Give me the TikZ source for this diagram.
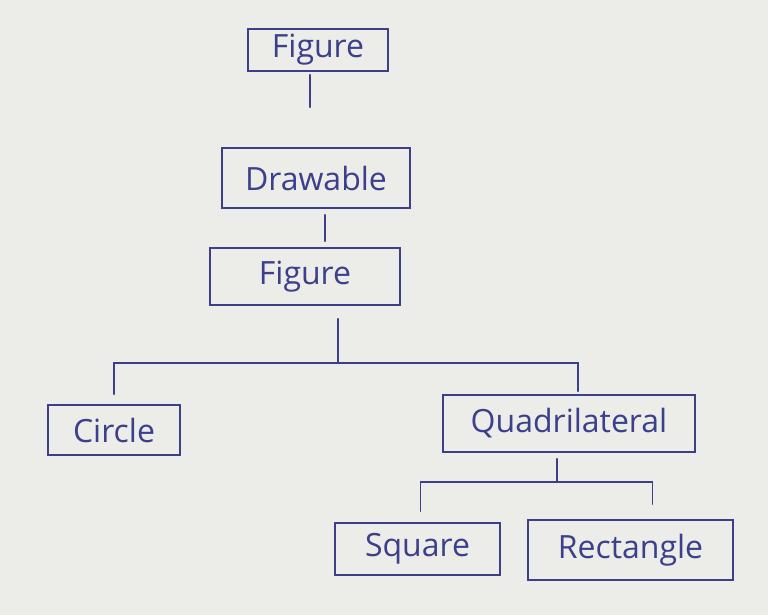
\documentclass[tikz,border=0pt]{standalone}
\usepackage{fontspec}
\setmainfont{Open Sans}
\definecolor{inkblue}{HTML}{3B3F8C}
\definecolor{paper}{HTML}{ECECE8}
\begin{document}
\begin{tikzpicture}[x=1pt,y=-1pt,
  ink/.style={draw=inkblue, line width=1.8pt, line cap=round},
  cls/.style={ink, rectangle, inner sep=0pt, text=inkblue, font=\fontsize{32}{38}\selectfont}]
\fill[paper] (0,0) rectangle (768,615);
\useasboundingbox (0,0) rectangle (768,615);
% classes
\node[cls, minimum width=140, minimum height=42] (fig1) at (318,50) {Figure};
\node[cls, minimum width=188, minimum height=60] (drw) at (316,178) {Drawable};
\node[cls, minimum width=190, minimum height=57] (fig2) at (305,276.5) {Figure};
\node[cls, minimum width=132, minimum height=50] (circ) at (114,430) {Circle};
\node[cls, minimum width=252, minimum height=57] (quad) at (569,423.5) {Quadrilateral};
\node[cls, minimum width=165, minimum height=52] (sq) at (417.5,549) {Square};
\node[cls, minimum width=205, minimum height=60] (rect) at (630.5,550) {Rectangle};
% junctions
\coordinate (j1) at (338,363);
\coordinate (j2) at (557,482);
% connectors
\draw[ink, shorten <=3pt, shorten >=40pt] ([xshift=-8]fig1.south) -- ([xshift=-8]fig1.south |- drw.north);
\draw[ink, shorten <=6pt, shorten >=6pt] ([xshift=9]drw.south) -- ([xshift=9]drw.south |- fig2.north);
\draw[ink, shorten <=13pt] (fig2.south -| j1) -- (j1);
\draw[ink, shorten >=10pt] (j1) -| (circ.north);
\draw[ink, shorten >=3pt] (j1) -| ([xshift=9]quad.north);
\draw[ink, shorten <=6pt] (quad.south -| j2) -- (j2);
\draw[ink, shorten >=11pt] (j2) -| ([xshift=3]sq.north);
\draw[ink, shorten >=15pt] (j2) -| ([xshift=22]rect.north);
\end{tikzpicture}
\end{document}
